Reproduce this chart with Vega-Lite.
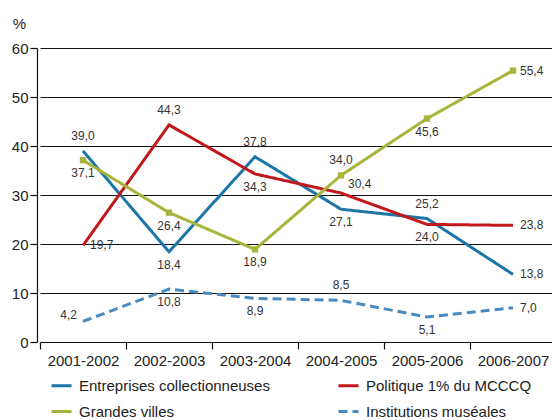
{
  "$schema": "https://vega.github.io/schema/vega-lite/v6.json",
  "width": 515,
  "height": 294,
  "autosize": "none",
  "padding": {"left": 37, "top": 48, "right": 0, "bottom": 78},
  "background": "white",
  "config": {
    "view": {"stroke": null},
    "font": "Liberation Sans",
    "axis": {"labelFont": "Liberation Sans", "titleFont": "Liberation Sans"},
    "legend": {"labelFont": "Liberation Sans"}
  },
  "data": {
    "values": [
      {"series": "Entreprises collectionneuses", "year": "2001-2002", "value": 39.0, "label": "39,0", "pos": "above"},
      {"series": "Entreprises collectionneuses", "year": "2002-2003", "value": 18.4, "label": "18,4", "pos": "below"},
      {"series": "Entreprises collectionneuses", "year": "2003-2004", "value": 37.8, "label": "37,8", "pos": "above"},
      {"series": "Entreprises collectionneuses", "year": "2004-2005", "value": 27.1, "label": "27,1", "pos": "below"},
      {"series": "Entreprises collectionneuses", "year": "2005-2006", "value": 25.2, "label": "25,2", "pos": "above"},
      {"series": "Entreprises collectionneuses", "year": "2006-2007", "value": 13.8, "label": "13,8", "pos": "right"},
      {"series": "Politique 1% du MCCCQ", "year": "2001-2002", "value": 19.7, "label": "19,7", "pos": "right"},
      {"series": "Politique 1% du MCCCQ", "year": "2002-2003", "value": 44.3, "label": "44,3", "pos": "above"},
      {"series": "Politique 1% du MCCCQ", "year": "2003-2004", "value": 34.3, "label": "34,3", "pos": "below"},
      {"series": "Politique 1% du MCCCQ", "year": "2004-2005", "value": 30.4, "label": "30,4", "pos": "upright"},
      {"series": "Politique 1% du MCCCQ", "year": "2005-2006", "value": 24.0, "label": "24,0", "pos": "below"},
      {"series": "Politique 1% du MCCCQ", "year": "2006-2007", "value": 23.8, "label": "23,8", "pos": "right"},
      {"series": "Grandes villes", "year": "2001-2002", "value": 37.1, "label": "37,1", "pos": "below"},
      {"series": "Grandes villes", "year": "2002-2003", "value": 26.4, "label": "26,4", "pos": "below"},
      {"series": "Grandes villes", "year": "2003-2004", "value": 18.9, "label": "18,9", "pos": "below"},
      {"series": "Grandes villes", "year": "2004-2005", "value": 34.0, "label": "34,0", "pos": "above"},
      {"series": "Grandes villes", "year": "2005-2006", "value": 45.6, "label": "45,6", "pos": "below"},
      {"series": "Grandes villes", "year": "2006-2007", "value": 55.4, "label": "55,4", "pos": "right"},
      {"series": "Institutions muséales", "year": "2001-2002", "value": 4.2, "label": "4,2", "pos": "left"},
      {"series": "Institutions muséales", "year": "2002-2003", "value": 10.8, "label": "10,8", "pos": "below"},
      {"series": "Institutions muséales", "year": "2003-2004", "value": 8.9, "label": "8,9", "pos": "below"},
      {"series": "Institutions muséales", "year": "2004-2005", "value": 8.5, "label": "8,5", "pos": "above"},
      {"series": "Institutions muséales", "year": "2005-2006", "value": 5.1, "label": "5,1", "pos": "below"},
      {"series": "Institutions muséales", "year": "2006-2007", "value": 7.0, "label": "7,0", "pos": "right"}
    ]
  },
  "encoding": {
    "x": {
      "field": "year", "type": "ordinal", "bandPosition": 0.5,
      "scale": {"type": "band", "range": [3, 519], "paddingInner": 0, "paddingOuter": 0},
      "axis": {
        "title": null, "labelAngle": 0, "tickBand": "extent", "domain": false,
        "ticks": true, "tickColor": "#111", "tickSize": 7, "tickWidth": 1.2,
        "labelFontSize": 15, "labelColor": "#222", "labelPadding": 4
      }
    },
    "y": {
      "field": "value", "type": "quantitative",
      "scale": {"domain": [0, 60], "nice": false},
      "axis": {
        "values": [0, 10, 20, 30, 40, 50, 60],
        "title": "%", "titleAngle": 0, "titleX": -18, "titleY": -20, "titleAlign": "center",
        "titleBaseline": "alphabetic", "titleFontSize": 15, "titleFontWeight": "normal", "titleColor": "#222",
        "grid": true, "gridColor": "#111", "gridWidth": 1.2, "gridOpacity": 1,
        "domain": true, "domainColor": "#111", "domainWidth": 1.2,
        "tickColor": "#111", "tickSize": 7, "tickWidth": 1.2,
        "labelFontSize": 15, "labelColor": "#222", "labelPadding": 2
      }
    }
  },
  "layer": [
    {
      "mark": {"type": "line", "strokeWidth": 3},
      "encoding": {
        "color": {
          "field": "series", "type": "nominal", "title": null,
          "scale": {
            "domain": ["Entreprises collectionneuses", "Grandes villes", "Politique 1% du MCCCQ", "Institutions muséales"],
            "range": ["#1b75a6", "#a9b43a", "#c0191c", "#4a8bbf"]
          },
          "legend": {
            "orient": "none", "legendX": 13, "legendY": 326, "columns": 2, "columnPadding": 62,
            "rowPadding": 6, "symbolType": "stroke", "symbolSize": 400, "symbolStrokeWidth": 3,
            "labelFontSize": 15, "labelColor": "#222", "labelOffset": 6, "labelLimit": 320
          }
        },
        "strokeDash": {
          "field": "series", "type": "nominal", "title": null,
          "scale": {
            "domain": ["Entreprises collectionneuses", "Grandes villes", "Politique 1% du MCCCQ", "Institutions muséales"],
            "range": [[1, 0], [1, 0], [1, 0], [9, 5]]
          },
          "legend": {
            "orient": "none", "legendX": 13, "legendY": 326, "columns": 2, "columnPadding": 62,
            "rowPadding": 6, "symbolType": "stroke", "symbolSize": 400, "symbolStrokeWidth": 3,
            "labelFontSize": 15, "labelColor": "#222", "labelOffset": 6, "labelLimit": 320
          }
        }
      }
    },
    {
      "transform": [{"filter": "datum.series === 'Grandes villes'"}],
      "mark": {"type": "point", "shape": "square", "filled": true, "size": 40, "opacity": 1, "color": "#a9b43a"},
      "encoding": {}
    },
    {
      "transform": [{"filter": "datum.pos === 'above'"}],
      "mark": {"type": "text", "dy": -15, "fontSize": 12, "color": "#333"},
      "encoding": {"text": {"field": "label"}}
    },
    {
      "transform": [{"filter": "datum.pos === 'below'"}],
      "mark": {"type": "text", "dy": 13, "fontSize": 12, "color": "#333"},
      "encoding": {"text": {"field": "label"}}
    },
    {
      "transform": [{"filter": "datum.pos === 'right'"}],
      "mark": {"type": "text", "dx": 7, "align": "left", "fontSize": 12, "color": "#333"},
      "encoding": {"text": {"field": "label"}}
    },
    {
      "transform": [{"filter": "datum.pos === 'upright'"}],
      "mark": {"type": "text", "dx": 7, "dy": -9, "align": "left", "fontSize": 12, "color": "#333"},
      "encoding": {"text": {"field": "label"}}
    },
    {
      "transform": [{"filter": "datum.pos === 'left'"}],
      "mark": {"type": "text", "dx": -6, "dy": -6, "align": "right", "fontSize": 12, "color": "#333"},
      "encoding": {"text": {"field": "label"}}
    }
  ]
}
